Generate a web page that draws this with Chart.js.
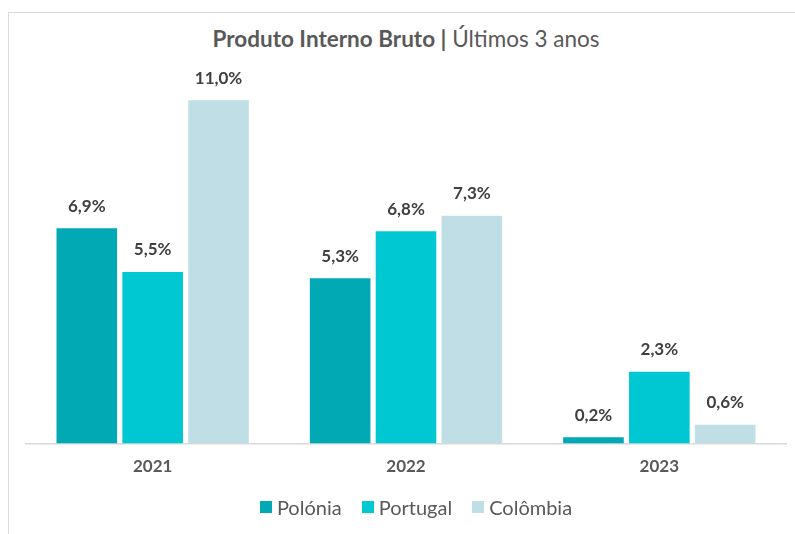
<!DOCTYPE html>
<html>
<head>
<meta charset="utf-8">
<script src="https://cdn.jsdelivr.net/npm/chart.js@4/dist/chart.umd.min.js"></script>
<style>
  html, body { margin:0; padding:0; background:#fff; overflow:hidden; }
  #wrap { position:relative; width:795px; height:534px; }
  #frame { position:absolute; left:8px; top:12px; width:900px; height:700px; border:1.5px solid #dadada; box-sizing:border-box; }
  #titulo { position:absolute; left:0; top:25px; width:812px; text-align:center; font-family:Lato, sans-serif; font-size:22.5px; color:#595959; }
  #titulo b { font-weight:700; }
  #chartPib { position:absolute; left:0; top:0; }
  #legenda { position:absolute; left:0; top:494px; width:832px; height:26px; display:flex; justify-content:center; align-items:center; font-family:Lato, sans-serif; font-size:20px; color:#595959; }
  #legenda .item { display:flex; align-items:center; margin:0 10px; }
  #legenda .caixa { width:12px; height:12px; margin-right:5px; }
</style>
</head>
<body>
<div id="wrap">
  <div id="frame"></div>
  <div id="titulo"><b>Produto Interno Bruto |</b> Últimos 3 anos</div>
  <canvas id="chartPib" width="795" height="534"></canvas>
  <div id="legenda"></div>
</div>
<script>
// dados
const anos = ["2021", "2022", "2023"];
const polonia = [6.9, 5.3, 0.2];
const portugal = [5.5, 6.8, 2.3];
const colombia = [11.0, 7.3, 0.6];

const corPolonia = "#00a9b4";
const corPortugal = "#00c8d3";
const corColombia = "#bfdee6";

// rótulos em cima das barras
const rotulosPlugin = {
  id: "rotulos",
  afterDatasetsDraw(chart){
    const ctx = chart.ctx;
    ctx.save();
    ctx.font = "bold 17px Lato, sans-serif";
    ctx.fillStyle = "#404040";
    ctx.textAlign = "center";
    ctx.textBaseline = "middle";
    chart.data.datasets.forEach((ds, i)=>{
      const meta = chart.getDatasetMeta(i);
      meta.data.forEach((bar, j)=>{
        const txt = ds.data[j].toFixed(1).replace(".", ",") + "%";
        ctx.fillText(txt, bar.x, bar.y - 22);
      });
    });
    ctx.restore();
  }
};

const ctx = document.getElementById("chartPib").getContext("2d");
const chart = new Chart(ctx, {
  type: "bar",
  data: {
    labels: anos,
    datasets: [
      { label: "Polónia", data: polonia, backgroundColor: corPolonia },
      { label: "Portugal", data: portugal, backgroundColor: corPortugal },
      { label: "Colômbia", data: colombia, backgroundColor: corColombia }
    ]
  },
  options: {
    responsive: false,
    animation: false,
    categoryPercentage: 0.78,
    barPercentage: 0.92,
    layout: { padding: { top: 69, left: 26, right: 9, bottom: 44 } },
    plugins: {
      title: { display: false },
      tooltip: { enabled: false },
      legend: { display: false }
    },
    scales: {
      x: {
        grid: { display: false, drawTicks: false },
        border: { display: true, color: "#d9d9d9", width: 1.5 },
        ticks: {
          color: "#595959",
          padding: 13,
          font: { family: "Lato, sans-serif", size: 17, weight: "bold" }
        }
      },
      y: {
        display: false,
        min: 0,
        max: 12
      }
    }
  },
  plugins: [rotulosPlugin]
});

// legenda em html, a partir dos datasets
const leg = document.getElementById("legenda");
chart.data.datasets.forEach(ds=>{
  const it = document.createElement("div");
  it.className = "item";
  const cx = document.createElement("span");
  cx.className = "caixa";
  cx.style.background = ds.backgroundColor;
  const tx = document.createElement("span");
  tx.textContent = ds.label;
  it.appendChild(cx);
  it.appendChild(tx);
  leg.appendChild(it);
});
</script>
</body>
</html>
